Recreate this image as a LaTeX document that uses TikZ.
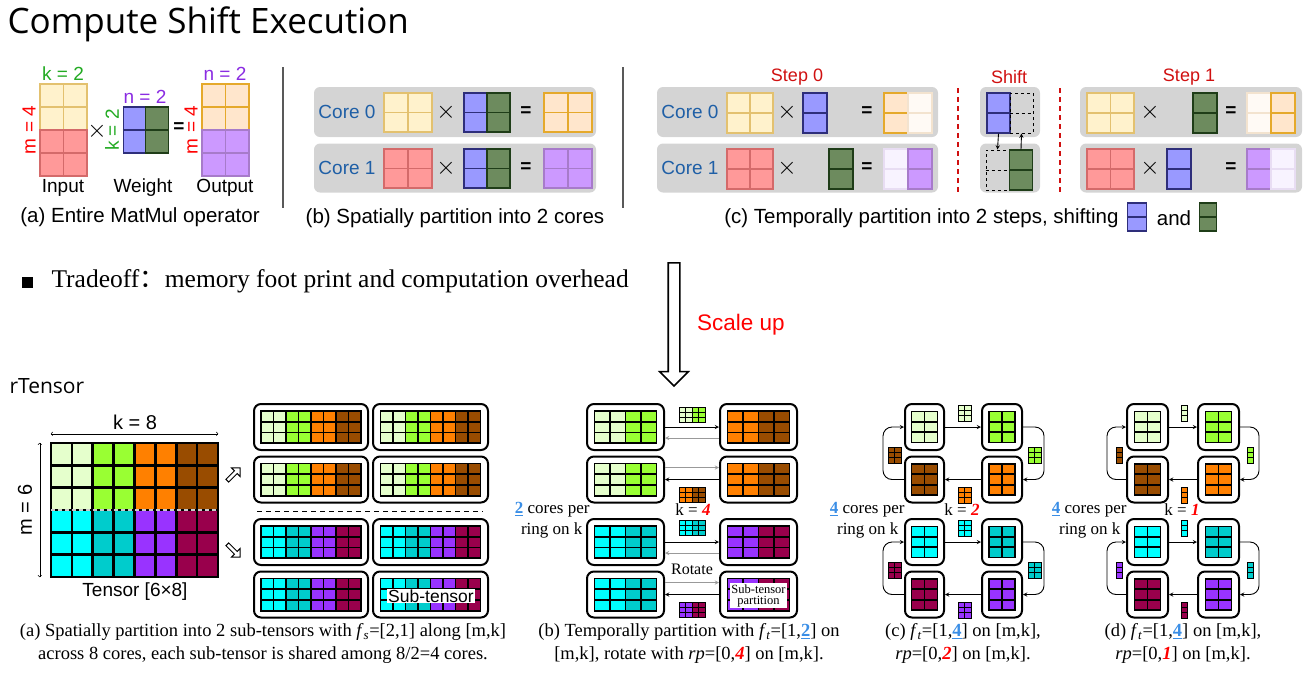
\documentclass[tikz,border=0pt]{standalone}
\usepackage{fontspec}
\setmainfont{Liberation Serif}
\setsansfont{Liberation Sans}
\newfontfamily\handfont{Open Sans}
\newfontfamily\cjk{Noto Sans CJK SC}
\usepackage{tikz}
\usetikzlibrary{shapes.arrows}
\definecolor{yelfill}{HTML}{FFF2CC}
\definecolor{yeldraw}{HTML}{E3C16F}
\definecolor{redfill}{HTML}{FF9999}
\definecolor{reddraw}{HTML}{D46A6A}
\definecolor{orafill}{HTML}{FFE6CC}
\definecolor{oradraw}{HTML}{E5A92B}
\definecolor{purfill}{HTML}{CC99FF}
\definecolor{purdraw}{HTML}{A77BCA}
\definecolor{blufill}{HTML}{9999FF}
\definecolor{bludraw}{HTML}{2E2E7A}
\definecolor{grnfill}{HTML}{6D8B5E}
\definecolor{grndraw}{HTML}{1F3D18}
\definecolor{palora}{HTML}{FFFAF5}
\definecolor{paloradraw}{HTML}{F3E3CF}
\definecolor{palpur}{HTML}{F8F3FF}
\definecolor{palpurdraw}{HTML}{E8DDF3}
\definecolor{coregray}{HTML}{D4D4D4}
\definecolor{coreblue}{HTML}{1F5FA6}
\definecolor{stepred}{HTML}{D01010}
\definecolor{kgreen}{HTML}{22AA22}
\definecolor{npurple}{HTML}{8A2BE2}
\definecolor{lgr}{HTML}{E5FFCC}
\definecolor{bgr}{HTML}{99FF33}
\definecolor{org}{HTML}{FF8000}
\definecolor{brn}{HTML}{994C00}
\definecolor{cyn}{HTML}{00FFFF}
\definecolor{tel}{HTML}{00CCCC}
\definecolor{pur}{HTML}{9933FF}
\definecolor{mar}{HTML}{99004C}
\definecolor{ulblue}{HTML}{3A8EE6}

\newcommand{\ulnum}[1]{\textcolor{ulblue}{\underline{\textbf{#1}}}}
\newcommand{\hlnum}[1]{\textcolor{red}{\textbf{\textit{#1}}}}
% cells with black borders: x, y, cell w, cell h, rows, line width, column colours
\newcommand{\cellgrid}[7]{%
  \foreach \gc [count=\gi from 0] in {#7} {
    \foreach \gr in {1,...,#5} {
      \fill[fill=\gc] ({#1+\gi*#3},{#2+(\gr-1)*#4}) rectangle ++(#3,#4);
    }
  }
  \foreach \gc [count=\gi from 0] in {#7} {
    \foreach \gr in {1,...,#5} {
      \draw[black, line width=#6] ({#1+\gi*#3},{#2+(\gr-1)*#4}) rectangle ++(#3,#4);
    }
  }
}
% soft cells: x, y, cell w, cell h, cols, rows, fill, draw
\newcommand{\softgrid}[8]{%
  \foreach \gi in {1,...,#5} {
    \foreach \gr in {1,...,#6} {
      \filldraw[fill=#7, draw=#8, line width=1.2pt]
        ({#1+(\gi-1)*#3},{#2+(\gr-1)*#4}) rectangle ++(#3,#4);
    }
  }
}
% weight column: name, centre, w, h, fill, draw
\newcommand{\wcolumn}[6]{%
  \node[wcol, minimum width=#3, minimum height=#4, fill=#5, draw=#6] (#1) at (#2) {};
  \draw[line width=1.2pt, #6] (#1.west) -- (#1.east);
}

\begin{document}
\begin{tikzpicture}[x=1pt, y=-1pt,
  capsans/.style={font=\sffamily\fontsize{20.5}{23}\selectfont},
  lblsans/.style={font=\sffamily\fontsize{19}{21}\selectfont},
  timessign/.style={font=\fontsize{24}{24}\selectfont},
  capserif/.style={font=\fontsize{18.5}{23}\selectfont, align=center},
  lblserif/.style={font=\fontsize{17}{20}\selectfont},
  coretxt/.style={font=\sffamily\fontsize{19}{21}\selectfont, text=coreblue},
  steptxt/.style={font=\sffamily\fontsize{18}{21}\selectfont, text=stepred},
  corebg/.style={rectangle, rounded corners=6pt, fill=coregray, inner sep=0pt},
  ringbox/.style={rectangle, rounded corners=7pt, draw=black, line width=2pt, fill=white,
                  inner sep=0pt, minimum height=46pt},
  wcol/.style={rectangle, inner sep=0pt, line width=1.2pt},
  hollow/.style={single arrow, draw, line width=1pt, fill=white, minimum height=18pt,
                 minimum width=12pt, single arrow head extend=3.5pt, inner sep=1.2pt},
  arrow/.style={->, >=stealth, line width=0.9pt},
  garrow/.style={arrow, color=black!40},
  dimline/.style={<->, >=to, line width=0.6pt},
  divider/.style={draw=black!65, line width=1.5pt},
]
\useasboundingbox (0,0) rectangle (1315,678);

\node[anchor=west, font=\handfont\fontsize{35}{40}\selectfont] (title) at (4,24) {Compute Shift Execution};

% (a) entire operator
\softgrid{40}{84}{23.5}{23}{2}{2}{yelfill}{yeldraw}
\softgrid{40}{130}{23.5}{23}{2}{2}{redfill}{reddraw}
\wcolumn{wa1}{134.5,130}{22.5pt}{46pt}{blufill}{bludraw}
\wcolumn{wa2}{157,130}{22.5pt}{46pt}{grnfill}{grndraw}
\softgrid{202}{84}{23.5}{23}{2}{2}{orafill}{oradraw}
\softgrid{202}{130}{23.5}{23}{2}{2}{purfill}{purdraw}
\node[lblsans, text=kgreen] (ka) at (63,74) {k = 2};
\node[lblsans, text=red, rotate=90] (ma) at (29,130) {m = 4};
\node[timessign] (xa) at (97,131) {$\times$};
\node[lblsans, text=kgreen, rotate=90] (kw) at (112,130) {k = 2};
\node[lblsans, text=npurple] (nw) at (145,97) {n = 2};
\node[lblsans] (eqa) at (179,128) {\textbf{=}};
\node[lblsans, text=red, rotate=90] (mo) at (191,130) {m = 4};
\node[lblsans, text=npurple] (no) at (225,74) {n = 2};
\node[lblsans] (inp) at (63,188) {Input};
\node[lblsans] (wgt) at (143,188) {Weight};
\node[lblsans] (outp) at (225,188) {Output};
\node[capsans] (capa0) at (140,217) {(a) Entire MatMul operator};
\draw[divider] (283,67) -- (283,208);

% (b) spatial partition
\node[corebg, minimum width=282pt, minimum height=50pt] (bc0) at (455,112) {};
\node[corebg, minimum width=282pt, minimum height=49pt] (bc1) at (455,168) {};
\node[coretxt] (bt0) at (347,112) {Core 0};
\node[coretxt] (bt1) at (347,168) {Core 1};
\softgrid{384}{93}{24}{19.5}{2}{2}{yelfill}{yeldraw}
\softgrid{384}{149}{24}{19.5}{2}{2}{redfill}{reddraw}
\wcolumn{wb1}{475.5,112.5}{23pt}{39pt}{blufill}{bludraw}
\wcolumn{wb2}{498.5,112.5}{23pt}{39pt}{grnfill}{grndraw}
\wcolumn{wb3}{475.5,168.5}{23pt}{39pt}{blufill}{bludraw}
\wcolumn{wb4}{498.5,168.5}{23pt}{39pt}{grnfill}{grndraw}
\softgrid{544}{93}{24}{19.5}{2}{2}{orafill}{oradraw}
\softgrid{544}{149}{24}{19.5}{2}{2}{purfill}{purdraw}
\node[timessign] (bx0) at (446,112) {$\times$};
\node[timessign] (bx1) at (446,168) {$\times$};
\node[lblsans] (be0) at (526,112) {\textbf{=}};
\node[lblsans] (be1) at (526,168) {\textbf{=}};
\node[capsans] (capb0) at (455,218) {(b) Spatially partition into 2 cores};
\draw[divider] (623,67) -- (623,208);

% (c) temporal partition
\node[steptxt] (st0) at (797,77) {Step 0};
\node[steptxt] (shf) at (1009,77) {Shift};
\node[steptxt] (st1) at (1189,77) {Step 1};
\node[corebg, minimum width=281pt, minimum height=50pt] (cc0) at (797.5,112) {};
\node[corebg, minimum width=281pt, minimum height=49pt] (cc1) at (797.5,168) {};
\node[corebg, minimum width=60pt, minimum height=50pt] (sc0) at (1010,112) {};
\node[corebg, minimum width=60pt, minimum height=49pt] (sc1) at (1010,168) {};
\node[corebg, minimum width=222pt, minimum height=50pt] (tc0) at (1191,112) {};
\node[corebg, minimum width=222pt, minimum height=49pt] (tc1) at (1191,168) {};
\node[coretxt] (ct0) at (690,112) {Core 0};
\node[coretxt] (ct1) at (690,168) {Core 1};
\softgrid{727}{93}{23}{20}{2}{2}{yelfill}{yeldraw}
\softgrid{727}{149}{23}{20}{2}{2}{redfill}{reddraw}
\wcolumn{wc1}{815,113}{24pt}{40pt}{blufill}{bludraw}
\wcolumn{wc2}{841,169}{24pt}{40pt}{grnfill}{grndraw}
\softgrid{884}{93}{24}{20}{1}{2}{orafill}{oradraw}
\softgrid{908}{93}{24}{20}{1}{2}{palora}{paloradraw}
\softgrid{884}{149}{24}{20}{1}{2}{palpur}{palpurdraw}
\softgrid{908}{149}{24}{20}{1}{2}{purfill}{purdraw}
\foreach \ry in {112,168} {
  \node[timessign] at (787,\ry) {$\times$};
  \node[lblsans] at (867,\ry) {\textbf{=}};
  \node[timessign] at (1150,\ry) {$\times$};
  \node[lblsans] at (1231,\ry) {\textbf{=}};
}
% shift
\wcolumn{shb}{998.5,113}{23pt}{40pt}{blufill}{bludraw}
\node[wcol, minimum width=23pt, minimum height=40pt, draw=black, dashed, line width=1pt] (shd0) at (1021.5,113) {};
\draw[dashed, line width=1pt] (shd0.west) -- (shd0.east);
\node[wcol, minimum width=23pt, minimum height=40pt, draw=black, dashed, line width=1pt] (shd1) at (997.5,170) {};
\draw[dashed, line width=1pt] (shd1.west) -- (shd1.east);
\wcolumn{shg}{1021,170}{23pt}{40pt}{grnfill}{grndraw}
\draw[arrow] (shb.south) -- (shd1.north);
\draw[arrow] (shg.north) -- (shd0.south);
\draw[stepred, dashed, line width=1.8pt, dash pattern=on 5pt off 4pt] (958,88) -- (958,192);
\draw[stepred, dashed, line width=1.8pt, dash pattern=on 5pt off 4pt] (1060,88) -- (1060,192);
% step 1
\softgrid{1087}{93}{23.5}{20}{2}{2}{yelfill}{yeldraw}
\softgrid{1087}{149}{23.5}{20}{2}{2}{redfill}{reddraw}
\wcolumn{wc3}{1205,113}{24pt}{40pt}{grnfill}{grndraw}
\wcolumn{wc4}{1179,169}{24pt}{40pt}{blufill}{bludraw}
\softgrid{1247}{93}{24}{20}{1}{2}{palora}{paloradraw}
\softgrid{1271}{93}{24}{20}{1}{2}{orafill}{oradraw}
\softgrid{1247}{149}{24}{20}{1}{2}{purfill}{purdraw}
\softgrid{1271}{149}{24}{20}{1}{2}{palpur}{palpurdraw}
\node[capsans, anchor=east] (capc0) at (1122,218) {(c) Temporally partition into 2 steps, shifting};
\wcolumn{icb}{1137,217}{19pt}{28pt}{blufill}{bludraw}
\node[capsans] (andc) at (1174,218) {and};
\wcolumn{icg}{1208,217}{17pt}{28pt}{grnfill}{grndraw}

% tradeoff and scale up
\node[fill=black, minimum size=11pt, inner sep=0pt] (bul) at (27.5,282) {};
\node[anchor=west, font=\fontsize{25.5}{28}\selectfont] (trade) at (48,281)
  {Tradeoff{\cjk ：}memory foot print and computation overhead};
\node[single arrow, draw, line width=1.6pt, fill=white, rotate=-90, minimum height=123pt,
      minimum width=27pt, single arrow head extend=8.5pt, inner sep=5pt] (scaleup) at (674,321.5) {};
\node[font=\sffamily\fontsize{22.5}{25}\selectfont, text=red] (scl) at (741,325) {Scale up};
\node[anchor=west, font=\handfont\fontsize{21}{24}\selectfont] (rt) at (6,386) {rTensor};

% (a) spatial sub-tensors
\node[inner sep=0pt, minimum width=167pt, minimum height=134pt] (tensor) at (134.5,510) {};
\cellgrid{51}{443}{20.875}{22.333}{3}{2.6pt}{lgr,lgr,bgr,bgr,org,org,brn,brn}
\cellgrid{51}{510}{20.875}{22.333}{3}{2.6pt}{cyn,cyn,tel,tel,pur,pur,mar,mar}
\draw[black!20, line width=1.6pt, dash pattern=on 4pt off 3pt] (tensor.west) -- (tensor.east);
\draw[dimline] ([yshift=9pt]tensor.north west) -- ([yshift=9pt]tensor.north east);
\draw[dimline] ([xshift=-11pt]tensor.north west) -- ([xshift=-11pt]tensor.south west);
\node[font=\sffamily\fontsize{20}{22}\selectfont] (k8) at (135,422) {k = 8};
\node[font=\sffamily\fontsize{20}{22}\selectfont, rotate=90] (m6) at (25,510) {m = 6};
\node[font=\sffamily\fontsize{19}{21}\selectfont] (tlbl) at (135,592) {Tensor [6×8]};
\node[hollow, rotate=45] (uparr) at (233,475) {};
\node[hollow, rotate=-45] (dnarr) at (233,550) {};
\foreach \ry/\ca/\cb/\cc/\cd [count=\ri] in {427/lgr/bgr/org/brn, 479.5/lgr/bgr/org/brn,
                                             542/cyn/tel/pur/mar, 594.5/cyn/tel/pur/mar} {
  \node[ringbox, minimum width=114pt] (sa\ri1) at (311,\ry) {};
  \node[ringbox, minimum width=115pt] (sa\ri2) at (430.5,\ry) {};
  \cellgrid{261}{\ry-16}{12.5}{10.7}{3}{1.8pt}{\ca,\ca,\cb,\cb,\cc,\cc,\cd,\cd}
  \cellgrid{380.5}{\ry-16}{12.5}{10.7}{3}{1.8pt}{\ca,\ca,\cb,\cb,\cc,\cc,\cd,\cd}
}
\draw[dashed, line width=1pt, dash pattern=on 5pt off 4pt] (257,511) -- (483,511);
\node[fill=white, inner sep=1pt, font=\sffamily\fontsize{17.5}{20}\selectfont] (stl) at (431,596) {Sub-tensor};
\node[capserif] (capa) at (263,643.5) {(a) Spatially partition into 2 sub-tensors with \textit{f}\textsubscript{\textit{s}}=[2,1] along [m,k]\\{}%
  across 8 cores, each sub-tensor is shared among 8/2=4 cores.};

% (b) rotate on k
\foreach \ry/\pa/\pb/\pc/\pd [count=\ri] in {427/lgr/bgr/org/brn, 479.5/lgr/bgr/org/brn,
                                             542/cyn/tel/pur/mar, 594.5/cyn/tel/pur/mar} {
  \node[ringbox, minimum width=77pt] (tb\ri1) at (625.5,\ry) {};
  \node[ringbox, minimum width=77pt] (tb\ri2) at (758.5,\ry) {};
  \cellgrid{594.5}{\ry-16}{15.5}{10.7}{3}{1.8pt}{\pa,\pa,\pb,\pb}
  \cellgrid{727.5}{\ry-16}{15.5}{10.7}{3}{1.8pt}{\pc,\pc,\pd,\pd}
}
\foreach \u/\l in {1/2,3/4} {
  \draw[arrow] (tb\u1.east) -- (tb\u2.west);
  \draw[garrow] ([yshift=-11pt]tb\u2.west) -- ([yshift=-11pt]tb\u1.east);
  \draw[garrow] ([yshift=12pt]tb\l1.east) -- ([yshift=12pt]tb\l2.west);
  \draw[arrow] (tb\l2.west) -- (tb\l1.east);
}
\cellgrid{679}{407}{6.5}{5}{3}{0.8pt}{lgr,lgr,bgr,bgr}
\cellgrid{679}{487}{6.5}{5}{3}{0.8pt}{org,org,brn,brn}
\cellgrid{679}{520}{6.5}{5}{3}{0.8pt}{cyn,cyn,tel,tel}
\cellgrid{679}{602}{6.5}{5}{3}{0.8pt}{pur,pur,mar,mar}
\node[lblserif] (k4) at (693,510) {k = \hlnum{4}};
\node[lblserif, anchor=east] (rb1) at (593,510) {\ulnum{2} cores per};
\node[lblserif, anchor=east] (rb2) at (586,530) {ring on k};
\node[font=\fontsize{16}{18}\selectfont] (rot) at (692,569) {Rotate};
\node[fill=white, inner sep=1pt, font=\fontsize{12.5}{11}\selectfont, align=center,
      minimum width=57pt, minimum height=25pt] (stp) at (758.5,595.5) {Sub-tensor\\partition};
\node[capserif] (capb) at (689,643.5) {(b) Temporally partition with \textit{f}\textsubscript{\textit{t}}=[1,\ulnum{2}] on\\{}%
  [m,k], rotate with \textit{rp}=[0,\hlnum{4}] on [m,k].};

% (c) and (d) rings
\foreach \ry/\pa/\pb [count=\ri] in {427/lgr/bgr, 479.5/brn/org, 542/cyn/tel, 594.5/mar/pur} {
  \node[ringbox, minimum width=39pt] (tc\ri1) at (924.5,\ry) {};
  \node[ringbox, minimum width=40pt] (tc\ri2) at (1002,\ry) {};
  \cellgrid{911.5}{\ry-15.5}{13}{10.3}{3}{1.8pt}{\pa,\pa}
  \cellgrid{989}{\ry-15.5}{13}{10.3}{3}{1.8pt}{\pb,\pb}
  \node[ringbox, minimum width=41pt] (td\ri1) at (1147.5,\ry) {};
  \node[ringbox, minimum width=41pt] (td\ri2) at (1218.5,\ry) {};
  \cellgrid{1134.5}{\ry-15.5}{13}{10.3}{3}{1.8pt}{\pa,\pa}
  \cellgrid{1205.5}{\ry-15.5}{13}{10.3}{3}{1.8pt}{\pb,\pb}
}
\foreach \p/\ext in {tc/21, td/19} {
  \foreach \u/\l in {1/2,3/4} {
    \draw[arrow] (\p\u1) -- (\p\u2);
    \draw[arrow] (\p\l2) -- (\p\l1);
    \draw[arrow, rounded corners=9pt] (\p\u2.east) -- ++(\ext,0) |- (\p\l2.east);
    \draw[arrow, rounded corners=9pt] (\p\l1.west) -- ++(-\ext,0) |- (\p\u1.west);
  }
}
% moving pieces
\cellgrid{958}{405}{6.5}{5.3}{3}{0.8pt}{lgr,lgr}
\cellgrid{1028}{447}{6.5}{5.3}{3}{0.8pt}{bgr,bgr}
\cellgrid{888}{447}{6.5}{5.3}{3}{0.8pt}{brn,brn}
\cellgrid{958}{487}{6.5}{5.3}{3}{0.8pt}{org,org}
\cellgrid{958}{520}{6.5}{5.3}{3}{0.8pt}{cyn,cyn}
\cellgrid{1028}{562}{6.5}{5.3}{3}{0.8pt}{tel,tel}
\cellgrid{888}{562}{6.5}{5.3}{3}{0.8pt}{mar,mar}
\cellgrid{958}{602}{6.5}{5.3}{3}{0.8pt}{pur,pur}
\cellgrid{1181}{405}{6.5}{5.3}{3}{0.8pt}{lgr}
\cellgrid{1247}{447}{6.5}{5.3}{3}{0.8pt}{bgr}
\cellgrid{1116}{447}{6.5}{5.3}{3}{0.8pt}{brn}
\cellgrid{1181}{487}{6.5}{5.3}{3}{0.8pt}{org}
\cellgrid{1181}{520}{6.5}{5.3}{3}{0.8pt}{cyn}
\cellgrid{1247}{562}{6.5}{5.3}{3}{0.8pt}{tel}
\cellgrid{1116}{562}{6.5}{5.3}{3}{0.8pt}{pur}
\cellgrid{1181}{602}{6.5}{5.3}{3}{0.8pt}{mar}
\node[lblserif] (k2) at (962,510) {k = \hlnum{2}};
\node[lblserif, anchor=east] (rc1) at (908,510) {\ulnum{4} cores per};
\node[lblserif, anchor=east] (rc2) at (902,530) {ring on k};
\node[lblserif] (k1) at (1182,510) {k = \hlnum{1}};
\node[lblserif, anchor=east] (rd1) at (1130,510) {\ulnum{4} cores per};
\node[lblserif, anchor=east] (rd2) at (1124,530) {ring on k};
\node[capserif] (capc) at (963,643.5) {(c) \textit{f}\textsubscript{\textit{t}}=[1,\ulnum{4}] on [m,k],\\
  \textit{rp}=[0,\hlnum{2}] on [m,k].};
\node[capserif] (capd) at (1183,643.5) {(d) \textit{f}\textsubscript{\textit{t}}=[1,\ulnum{4}] on [m,k],\\
  \textit{rp}=[0,\hlnum{1}] on [m,k].};
\end{tikzpicture}
\end{document}
